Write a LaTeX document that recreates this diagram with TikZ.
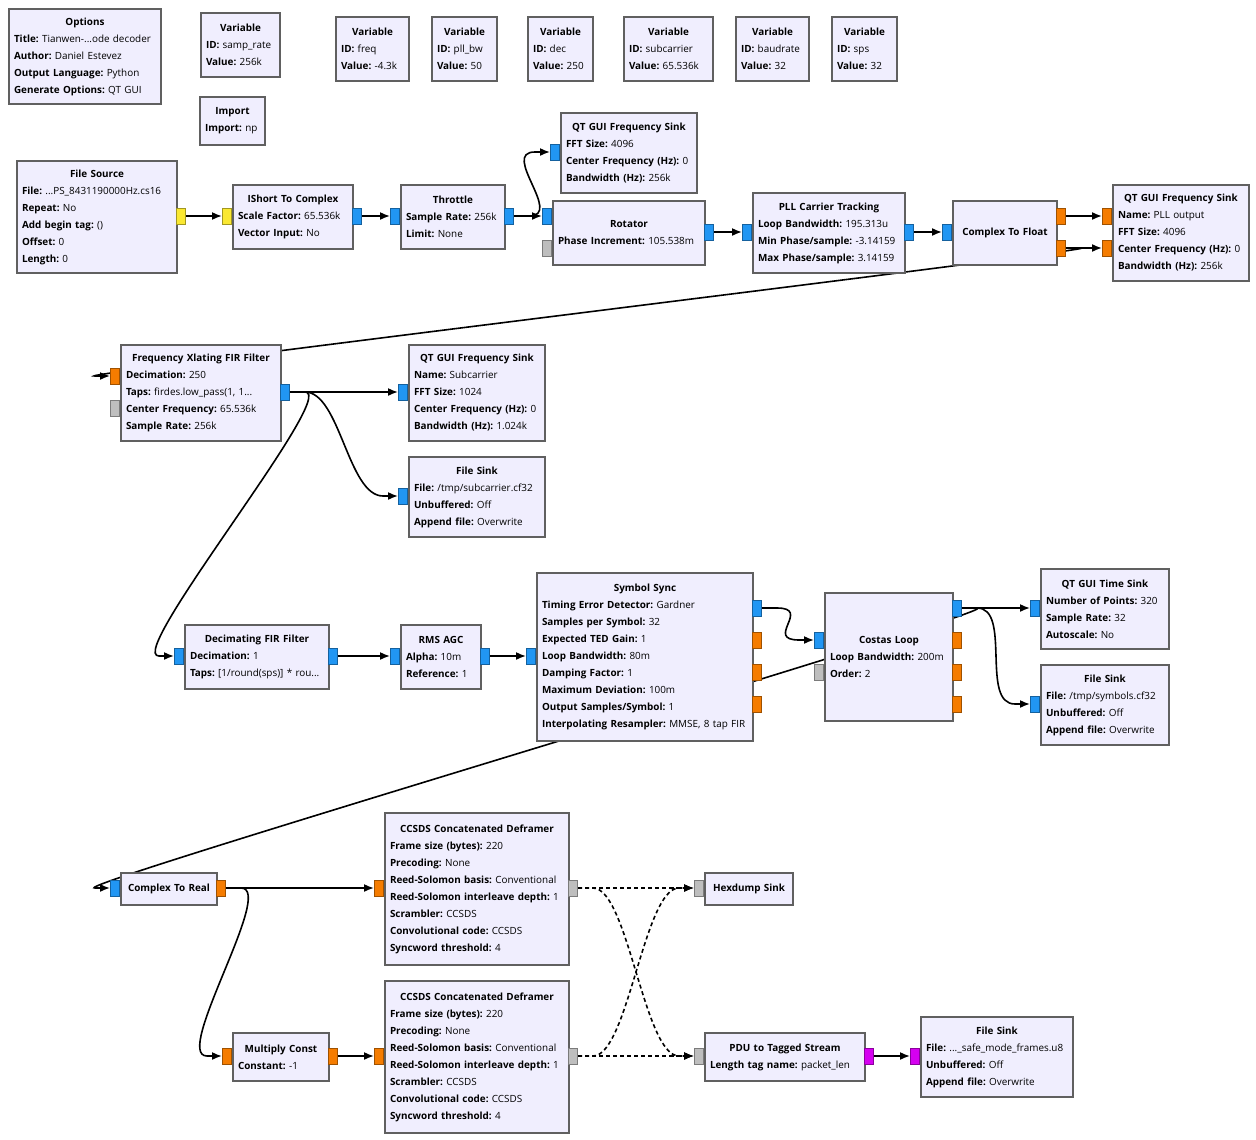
\documentclass[tikz,border=0pt]{standalone}
\usepackage{fontspec}
\setmainfont{Open Sans}
\usetikzlibrary{arrows.meta}
\pgfdeclarelayer{bg}
\pgfsetlayers{bg,main}
\definecolor{blkfill}{RGB}{240,238,254}
\definecolor{blkline}{RGB}{96,96,96}
\definecolor{cplx}{RGB}{33,150,243}
\definecolor{flt}{RGB}{245,124,0}
\definecolor{shrt}{RGB}{250,232,50}
\definecolor{msg}{RGB}{190,190,190}
\definecolor{byt}{RGB}{213,0,240}
\newcommand{\btitle}[1]{\makebox[\hsize]{\bfseries #1}}
\newcommand{\prm}[2]{\textbf{#1:}~#2}
\tikzset{
  blk/.style={draw=blkline, fill=blkfill, line width=2pt, anchor=north west,
    inner xsep=5pt, inner ysep=0pt, align=left,
    font=\fontsize{9.9}{17}\selectfont},
  port/.style={draw=#1!65!black, fill=#1, line width=1pt, inner sep=0pt,
    minimum width=9pt, minimum height=16pt},
  conn/.style={line width=1.6pt, >={Latex[length=10pt,width=8pt]}, ->},
  msgconn/.style={conn, dash pattern=on 4pt off 3pt},
  grc/.style={to path={-- ++(15,0) .. controls +(35,0) and ([xshift=-50]\tikztotarget)
    .. ([xshift=-15]\tikztotarget) -- (\tikztotarget)}}
}
\begin{document}
\begin{tikzpicture}[x=1pt, y=-1pt]
  \useasboundingbox (0,0) rectangle (1256,1140);
  % variables and options
  \node[blk, text width=142, minimum height=95] (opts) at (8,8) {\btitle{Options}\\
    \prm{Title}{Tianwen-...ode decoder}\\ \prm{Author}{Daniel Estevez}\\
    \prm{Output Language}{Python}\\ \prm{Generate Options}{QT GUI}};
  \node[blk, text width=69, minimum height=64] (vrate) at (200,12) {\btitle{Variable}\\
    \prm{ID}{samp\_rate}\\ \prm{Value}{256k}};
  \node[blk, text width=63, minimum height=64] (vfreq) at (335,16) {\btitle{Variable}\\
    \prm{ID}{freq}\\ \prm{Value}{-4.3k}};
  \node[blk, text width=55, minimum height=64] (vpll) at (431,16) {\btitle{Variable}\\
    \prm{ID}{pll\_bw}\\ \prm{Value}{50}};
  \node[blk, text width=55, minimum height=64] (vdec) at (527,16) {\btitle{Variable}\\
    \prm{ID}{dec}\\ \prm{Value}{250}};
  \node[blk, text width=79, minimum height=64] (vsub) at (623,16) {\btitle{Variable}\\
    \prm{ID}{subcarrier}\\ \prm{Value}{65.536k}};
  \node[blk, text width=63, minimum height=64] (vbaud) at (735,16) {\btitle{Variable}\\
    \prm{ID}{baudrate}\\ \prm{Value}{32}};
  \node[blk, text width=55, minimum height=64] (vsps) at (831,16) {\btitle{Variable}\\
    \prm{ID}{sps}\\ \prm{Value}{32}};
  \node[blk, text width=55, minimum height=48] (imp) at (199,96) {\btitle{Import}\\
    \prm{Import}{np}};

  % carrier chain
  \node[blk, text width=150, minimum height=112] (fsrc) at (16,160) {\btitle{File Source}\\
    \prm{File}{...PS\_8431190000Hz.cs16}\\ \prm{Repeat}{No}\\
    \prm{Add begin tag}{()}\\ \prm{Offset}{0}\\ \prm{Length}{0}};
  \node[blk, text width=110, minimum height=64] (i2c) at (232,184) {\btitle{IShort To Complex}\\
    \prm{Scale Factor}{65.536k}\\ \prm{Vector Input}{No}};
  \node[blk, text width=94, minimum height=64] (thr) at (400,184) {\btitle{Throttle}\\
    \prm{Sample Rate}{256k}\\ \prm{Limit}{None}};
  \node[blk, text width=126, minimum height=80] (fq1) at (560,112) {\btitle{QT GUI Frequency Sink}\\
    \prm{FFT Size}{4096}\\ \prm{Center Frequency (Hz)}{0}\\ \prm{Bandwidth (Hz)}{256k}};
  \node[blk, text width=142, minimum height=64] (rot) at (552,200) {\btitle{Rotator}\\
    \prm{Phase Increment}{105.538m}};
  \node[blk, text width=142, minimum height=80] (pll) at (752,192) {\btitle{PLL Carrier Tracking}\\
    \prm{Loop Bandwidth}{195.313u}\\ \prm{Min Phase/sample}{-3.14159}\\
    \prm{Max Phase/sample}{3.14159}};
  \node[blk, text width=94, minimum height=64] (c2f) at (952,200) {\btitle{Complex To Float}};
  \node[blk, text width=126, minimum height=96] (fq2) at (1112,184) {\btitle{QT GUI Frequency Sink}\\
    \prm{Name}{PLL output}\\ \prm{FFT Size}{4096}\\
    \prm{Center Frequency (Hz)}{0}\\ \prm{Bandwidth (Hz)}{256k}};

  % subcarrier
  \node[blk, text width=150, minimum height=96] (xlt) at (120,344) {\btitle{Frequency Xlating FIR Filter}\\
    \prm{Decimation}{250}\\ \prm{Taps}{firdes.low\_pass(1, 1...}\\
    \prm{Center Frequency}{65.536k}\\ \prm{Sample Rate}{256k}};
  \node[blk, text width=126, minimum height=96] (fq3) at (408,344) {\btitle{QT GUI Frequency Sink}\\
    \prm{Name}{Subcarrier}\\ \prm{FFT Size}{1024}\\
    \prm{Center Frequency (Hz)}{0}\\ \prm{Bandwidth (Hz)}{1.024k}};
  \node[blk, text width=126, minimum height=80] (fs1) at (408,456) {\btitle{File Sink}\\
    \prm{File}{/tmp/subcarrier.cf32}\\ \prm{Unbuffered}{Off}\\ \prm{Append file}{Overwrite}};

  % symbols
  \node[blk, text width=134, minimum height=64] (dfir) at (184,624) {\btitle{Decimating FIR Filter}\\
    \prm{Decimation}{1}\\ \prm{Taps}{[1/round(sps)] * rou...}};
  \node[blk, text width=70, minimum height=64] (agc) at (400,624) {\btitle{RMS AGC}\\
    \prm{Alpha}{10m}\\ \prm{Reference}{1}};
  \node[blk, text width=206, minimum height=168] (ss) at (536,572) {\btitle{Symbol Sync}\\
    \prm{Timing Error Detector}{Gardner}\\ \prm{Samples per Symbol}{32}\\
    \prm{Expected TED Gain}{1}\\ \prm{Loop Bandwidth}{80m}\\ \prm{Damping Factor}{1}\\
    \prm{Maximum Deviation}{100m}\\ \prm{Output Samples/Symbol}{1}\\
    \prm{Interpolating Resampler}{MMSE, 8 tap FIR}};
  \node[blk, text width=118, minimum height=128] (cos) at (824,592) {\btitle{Costas Loop}\\
    \prm{Loop Bandwidth}{200m}\\ \prm{Order}{2}};
  \node[blk, text width=118, minimum height=80] (tsk) at (1040,568) {\btitle{QT GUI Time Sink}\\
    \prm{Number of Points}{320}\\ \prm{Sample Rate}{32}\\ \prm{Autoscale}{No}};
  \node[blk, text width=118, minimum height=80] (fs2) at (1040,664) {\btitle{File Sink}\\
    \prm{File}{/tmp/symbols.cf32}\\ \prm{Unbuffered}{Off}\\ \prm{Append file}{Overwrite}};

  % frames
  \node[blk, text width=86, minimum height=32] (c2r) at (120,872) {\btitle{Complex To Real}};
  \node[blk, text width=174, minimum height=152] (dfr1) at (384,812) {\btitle{CCSDS Concatenated Deframer}\\
    \prm{Frame size (bytes)}{220}\\ \prm{Precoding}{None}\\
    \prm{Reed-Solomon basis}{Conventional}\\ \prm{Reed-Solomon interleave depth}{1}\\
    \prm{Scrambler}{CCSDS}\\ \prm{Convolutional code}{CCSDS}\\ \prm{Syncword threshold}{4}};
  \node[blk, text width=86, minimum height=48] (mul) at (232,1032) {\btitle{Multiply Const}\\
    \prm{Constant}{-1}};
  \node[blk, text width=174, minimum height=152] (dfr2) at (384,980) {\btitle{CCSDS Concatenated Deframer}\\
    \prm{Frame size (bytes)}{220}\\ \prm{Precoding}{None}\\
    \prm{Reed-Solomon basis}{Conventional}\\ \prm{Reed-Solomon interleave depth}{1}\\
    \prm{Scrambler}{CCSDS}\\ \prm{Convolutional code}{CCSDS}\\ \prm{Syncword threshold}{4}};
  \node[blk, text width=78, minimum height=32] (hex) at (704,872) {\btitle{Hexdump Sink}};
  \node[blk, text width=150, minimum height=48] (pdu) at (704,1032) {\btitle{PDU to Tagged Stream}\\
    \prm{Length tag name}{packet\_len}};
  \node[blk, text width=142, minimum height=80] (fs3) at (920,1016) {\btitle{File Sink}\\
    \prm{File}{...\_safe\_mode\_frames.u8}\\ \prm{Unbuffered}{Off}\\ \prm{Append file}{Overwrite}};

  % ports
  \node[port=shrt, anchor=west] (fsrc-o) at (176,216) {};
  \node[port=shrt, anchor=east] (i2c-i) at (232,216) {};
  \node[port=cplx, anchor=west] (i2c-o) at (352,216) {};
  \node[port=cplx, anchor=east] (thr-i) at (400,216) {};
  \node[port=cplx, anchor=west] (thr-o) at (504,216) {};
  \node[port=cplx, anchor=east] (fq1-i) at (560,152) {};
  \node[port=cplx, anchor=east] (rot-i) at (552,216) {};
  \node[port=msg, anchor=east] (rot-m) at (552,248) {};
  \node[port=cplx, anchor=west] (rot-o) at (704,232) {};
  \node[port=cplx, anchor=east] (pll-i) at (752,232) {};
  \node[port=cplx, anchor=west] (pll-o) at (904,232) {};
  \node[port=cplx, anchor=east] (c2f-i) at (952,232) {};
  \node[port=flt, anchor=west] (c2f-o0) at (1056,216) {};
  \node[port=flt, anchor=west] (c2f-o1) at (1056,248) {};
  \node[port=flt, anchor=east] (fq2-i0) at (1112,216) {};
  \node[port=flt, anchor=east] (fq2-i1) at (1112,248) {};
  \node[port=flt, anchor=east] (xlt-i) at (120,376) {};
  \node[port=msg, anchor=east] (xlt-m) at (120,408) {};
  \node[port=cplx, anchor=west] (xlt-o) at (280,392) {};
  \node[port=cplx, anchor=east] (fq3-i) at (408,392) {};
  \node[port=cplx, anchor=east] (fs1-i) at (408,496) {};
  \node[port=cplx, anchor=east] (dfir-i) at (184,656) {};
  \node[port=cplx, anchor=west] (dfir-o) at (328,656) {};
  \node[port=cplx, anchor=east] (agc-i) at (400,656) {};
  \node[port=cplx, anchor=west] (agc-o) at (480,656) {};
  \node[port=cplx, anchor=east] (ss-i) at (536,656) {};
  \node[port=cplx, anchor=west] (ss-o0) at (752,608) {};
  \foreach \k/\y in {1/640,2/672,3/704}
    \node[port=flt, anchor=west] (ss-o\k) at (752,\y) {};
  \node[port=cplx, anchor=east] (cos-i) at (824,640) {};
  \node[port=msg, anchor=east] (cos-m) at (824,672) {};
  \node[port=cplx, anchor=west] (cos-o0) at (952,608) {};
  \foreach \k/\y in {1/640,2/672,3/704}
    \node[port=flt, anchor=west] (cos-o\k) at (952,\y) {};
  \node[port=cplx, anchor=east] (tsk-i) at (1040,608) {};
  \node[port=cplx, anchor=east] (fs2-i) at (1040,704) {};
  \node[port=cplx, anchor=east] (c2r-i) at (120,888) {};
  \node[port=flt, anchor=west] (c2r-o) at (216,888) {};
  \node[port=flt, anchor=east] (dfr1-i) at (384,888) {};
  \node[port=msg, anchor=west] (dfr1-o) at (568,888) {};
  \node[port=flt, anchor=east] (mul-i) at (232,1056) {};
  \node[port=flt, anchor=west] (mul-o) at (328,1056) {};
  \node[port=flt, anchor=east] (dfr2-i) at (384,1056) {};
  \node[port=msg, anchor=west] (dfr2-o) at (568,1056) {};
  \node[port=msg, anchor=east] (hex-i) at (704,888) {};
  \node[port=msg, anchor=east] (pdu-i) at (704,1056) {};
  \node[port=byt, anchor=west] (pdu-o) at (864,1056) {};
  \node[port=byt, anchor=east] (fs3-i) at (920,1056) {};

  % connections, drawn under the blocks
  \begin{pgfonlayer}{bg}
    \fill[white] (0,0) rectangle (1256,1140);
    \draw[conn] (fsrc-o.east) to[grc] (i2c-i.west);
    \draw[conn] (i2c-o.east) to[grc] (thr-i.west);
    \draw[conn] (thr-o.east) to[grc] (rot-i.west);
    \draw[conn] (thr-o.east) to[grc] (fq1-i.west);
    \draw[conn] (rot-o.east) to[grc] (pll-i.west);
    \draw[conn] (pll-o.east) to[grc] (c2f-i.west);
    \draw[conn] (c2f-o0.east) to[grc] (fq2-i0.west);
    \draw[conn] (c2f-o1.east) to[grc] (fq2-i1.west);
    \draw[conn] (c2f-o1.east) to[grc] (xlt-i.west);
    \draw[conn] (xlt-o.east) to[grc] (fq3-i.west);
    \draw[conn] (xlt-o.east) to[grc] (fs1-i.west);
    \draw[conn] (xlt-o.east) to[grc] (dfir-i.west);
    \draw[conn] (dfir-o.east) to[grc] (agc-i.west);
    \draw[conn] (agc-o.east) to[grc] (ss-i.west);
    \draw[conn] (ss-o0.east) to[grc] (cos-i.west);
    \draw[conn] (cos-o0.east) to[grc] (tsk-i.west);
    \draw[conn] (cos-o0.east) to[grc] (fs2-i.west);
    \draw[conn] (cos-o0.east) to[grc] (c2r-i.west);
    \draw[conn] (c2r-o.east) to[grc] (dfr1-i.west);
    \draw[conn] (c2r-o.east) to[grc] (mul-i.west);
    \draw[conn] (mul-o.east) to[grc] (dfr2-i.west);
    \draw[msgconn] (dfr1-o.east) to[grc] (hex-i.west);
    \draw[msgconn] (dfr2-o.east) to[grc] (pdu-i.west);
    \draw[msgconn] (dfr1-o.east) to[grc] (pdu-i.west);
    \draw[msgconn] (dfr2-o.east) to[grc] (hex-i.west);
    \draw[conn] (pdu-o.east) to[grc] (fs3-i.west);
  \end{pgfonlayer}
\end{tikzpicture}
\end{document}
